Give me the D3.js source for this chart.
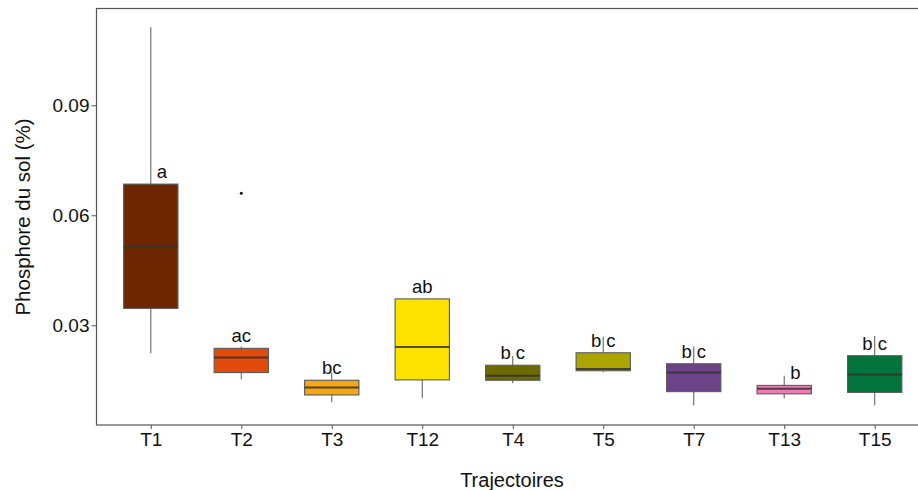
<!DOCTYPE html>
<html>
<head>
<meta charset="utf-8">
<script src="https://cdn.jsdelivr.net/npm/d3@7"></script>
<style>
  body { margin: 0; background: #fff; }
  text { font-family: Arial, "Liberation Sans", sans-serif; fill: #111; }
</style>
</head>
<body>
<svg id="chart"></svg>
<script>
const W = 918, H = 490;

// data
const trajectoires = ["T1", "T2", "T3", "T12", "T4", "T5", "T7", "T13", "T15"];
const whiskerLo = [0.0224, 0.0153, 0.0091, 0.0101, 0.0142, 0.0172, 0.0082, 0.0100, 0.0082];
const q1        = [0.0346, 0.0171, 0.0110, 0.0151, 0.0150, 0.0176, 0.0119, 0.0113, 0.0117];
const medians   = [0.0514, 0.0212, 0.0130, 0.0241, 0.0162, 0.0181, 0.0171, 0.0127, 0.0166];
const q3        = [0.0685, 0.0237, 0.0150, 0.0372, 0.0191, 0.0225, 0.0195, 0.0136, 0.0217];
const whiskerHi = [0.1113, 0.0242, 0.0171, 0.0372, 0.0216, 0.0269, 0.0242, 0.0162, 0.0271];
const outliers  = [[], [0.066], [], [], [], [], [], [], []];
const letters   = ["a", "ac", "bc", "ab", "b c", "b c", "b c", "b", "b c"];
const fills     = ["#6e2600", "#e34b0b", "#f5a813", "#fde200", "#6c6a00", "#aba500", "#6c4288", "#ee7ab8", "#00743a"];
const yTicks    = [0.03, 0.06, 0.09];

const margin = { left: 96.5, top: 8.5, bottom: 425, right: 929 };

const svg = d3.select("#chart").attr("width", W).attr("height", H);

const x = d3.scalePoint().domain(trajectoires).range([margin.left, margin.right]).padding(0.6);
const y = d3.scaleLinear().domain([0.0028, 0.1164]).range([margin.bottom, margin.top]);
const boxW = x.step() * 0.6;

const rows = trajectoires.map((t, i) => ({
    t, lo: whiskerLo[i], q1: q1[i], med: medians[i], q3: q3[i], hi: whiskerHi[i],
    out: outliers[i], lab: letters[i], fill: fills[i]
}));

// panel border
svg.append("rect")
    .attr("x", margin.left).attr("y", margin.top)
    .attr("width", margin.right - margin.left).attr("height", margin.bottom - margin.top)
    .attr("fill", "none").attr("stroke", "#555").attr("stroke-width", 1.2);

// axes
const yAxis = svg.append("g")
    .attr("transform", `translate(${margin.left},0)`)
    .call(d3.axisLeft(y).tickValues(yTicks).tickFormat(d3.format(".2f")).tickSize(5).tickPadding(2));
const xAxis = svg.append("g")
    .attr("transform", `translate(0,${margin.bottom})`)
    .call(d3.axisBottom(x).tickSize(4).tickPadding(4));
[yAxis, xAxis].forEach(g => {
    g.select(".domain").remove();
    g.selectAll(".tick line").attr("stroke", "#555");
    g.selectAll(".tick text").attr("font-size", 19).attr("fill", "#111");
});

const g = svg.selectAll("g.box").data(rows).enter().append("g").classed("box", true);

// whiskers
g.append("line")
    .attr("x1", d => x(d.t)).attr("x2", d => x(d.t))
    .attr("y1", d => y(d.hi)).attr("y2", d => y(d.q3))
    .attr("stroke", "#666").attr("stroke-width", 1.1);
g.append("line")
    .attr("x1", d => x(d.t)).attr("x2", d => x(d.t))
    .attr("y1", d => y(d.q1)).attr("y2", d => y(d.lo))
    .attr("stroke", "#666").attr("stroke-width", 1.1);

// boxes
g.append("rect")
    .attr("x", d => x(d.t) - boxW / 2).attr("width", boxW)
    .attr("y", d => y(d.q3)).attr("height", d => y(d.q1) - y(d.q3))
    .attr("fill", d => d.fill).attr("stroke", "#5a5a5a").attr("stroke-width", 1.1);

// medians
g.append("line")
    .attr("x1", d => x(d.t) - boxW / 2).attr("x2", d => x(d.t) + boxW / 2)
    .attr("y1", d => y(d.med)).attr("y2", d => y(d.med))
    .attr("stroke", "#333").attr("stroke-opacity", 0.85).attr("stroke-width", 2);

// outliers
g.selectAll("circle").data(d => d.out.map(v => ({ t: d.t, v }))).enter()
    .append("circle")
    .attr("cx", d => x(d.t)).attr("cy", d => y(d.v)).attr("r", 1.5).attr("fill", "#111");

// letters (single letters crossed by the whisker sit to its right)
const besideWhisker = d => d.hi > d.q3 + 0.0015 && d.lab.length === 1;
g.append("text")
    .attr("font-size", 18.5)
    .attr("x", d => besideWhisker(d) ? x(d.t) + 6 : x(d.t))
    .attr("text-anchor", d => besideWhisker(d) ? "start" : "middle")
    .attr("y", d => y(d.q3) - 6)
    .text(d => d.lab);

// titles
svg.append("text")
    .attr("x", 512).attr("y", 487)
    .attr("text-anchor", "middle").attr("font-size", 20)
    .text("Trajectoires");
svg.append("text")
    .attr("transform", "translate(30,217) rotate(-90)")
    .attr("text-anchor", "middle").attr("font-size", 20.5)
    .text("Phosphore du sol (%)");
</script>
</body>
</html>
